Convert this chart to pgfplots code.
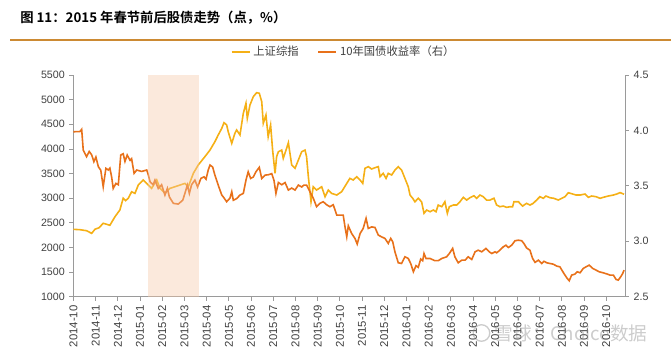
\documentclass[border=0pt]{standalone}
\usepackage{fontspec}
\setmainfont{Liberation Sans}
\newfontfamily\cjk[BoldFont={Noto Sans CJK SC Bold}]{Noto Sans CJK SC}
\usepackage{pgfplots}
\pgfplotsset{compat=1.18}
\definecolor{yel}{HTML}{F5B016}
\definecolor{org}{HTML}{E8711A}
\definecolor{shade}{HTML}{F5C8A8}
\definecolor{axgray}{HTML}{9A9A9A}
\definecolor{txt}{HTML}{404040}
\definecolor{rulec}{HTML}{CC8A33}
\pgfplotsset{
  common/.style={
    at={(55.1pt,42.2pt)}, anchor=south west,
    scale only axis, width=413.6pt, height=166.3pt,
    xmin=0, xmax=24.84,
    axis line style={axgray, line width=0.6pt},
    tick align=outside, major tick length=3pt,
    tick style={axgray, line width=0.6pt},
    yticklabel style={font=\fontsize{8}{10}\selectfont, text=txt},
    /pgf/number format/assume math mode=true,
    /pgf/number format/1000 sep={},
    scaled y ticks=false,
  }
}
\begin{document}
\begin{tikzpicture}
\useasboundingbox (0,0) rectangle (503.25pt,264.75pt);
\node[anchor=west, inner sep=0] at (15pt,251.6pt) {\cjk\bfseries\fontsize{10}{12}\selectfont 图 11：2015 年春节前后股债走势（点，\%）};
\draw[rulec, line width=0.9pt] (7.5pt,234.75pt) -- (503.25pt,234.75pt);

\begin{axis}[common,
  ymin=1000, ymax=5500,
  axis x line*=bottom, axis y line*=left,
  xtick={0,...,24},
  xticklabels={2014-10,2014-11,2014-12,2015-01,2015-02,2015-03,2015-04,2015-05,2015-06,2015-07,2015-08,2015-09,2015-10,2015-11,2015-12,2016-01,2016-02,2016-03,2016-04,2016-05,2016-06,2016-07,2016-08,2016-09,2016-10},
  xticklabel style={rotate=90, anchor=east, font=\fontsize{8.5}{10}\selectfont, text=txt},
  ytick={1000,1500,...,5500},
  legend style={at={(0.4905,1.104)}, anchor=center, draw=none, fill=none,
    legend columns=2, font=\cjk\fontsize{8.5}{10}\selectfont, text=txt,
    /tikz/every even column/.append style={column sep=12pt}},
  legend image code/.code={\draw[#1, line width=1.5pt] (0pt,0pt) -- (13.5pt,0pt);},
]
\addplot[yel, line width=1.2pt] coordinates {
(0.00,2368) (0.30,2360) (0.59,2340) (0.82,2286) (0.97,2370) (1.15,2400) (1.34,2490) (1.50,2470) (1.64,2450) (1.87,2624) (2.09,2760) (2.24,3000) (2.35,2950) (2.47,3000) (2.62,3130) (2.77,3098) (2.92,3267) (3.14,3370) (3.37,3267) (3.52,3200) (3.75,3370) (3.90,3200) (4.12,3100) (4.35,3200) (4.57,3233) (4.80,3267) (5.02,3300) (5.17,3230) (5.40,3505) (5.62,3673) (5.92,3842) (6.15,3977) (6.37,4146) (6.52,4282) (6.68,4418) (6.78,4532) (6.90,4487) (6.97,4350) (7.13,4113) (7.27,4316) (7.35,4384) (7.50,4282) (7.65,4722) (7.77,4925) (7.83,4620) (7.95,4891) (8.10,5060) (8.25,5141) (8.37,5130) (8.48,4958) (8.55,4520) (8.67,4688) (8.77,4248) (8.88,4485) (8.97,3977) (9.08,3505) (9.15,3842) (9.23,3943) (9.38,3977) (9.45,3808) (9.60,4012) (9.68,4126) (9.83,3673) (9.98,3606) (10.13,3775) (10.28,3943) (10.43,3977) (10.50,3842) (10.58,3436) (10.70,2928) (10.80,3232) (10.95,3165) (11.18,3232) (11.33,3030) (11.48,3165) (11.63,3097) (11.86,3064) (12.08,3131) (12.31,3300) (12.45,3402) (12.60,3368) (12.76,3436) (12.91,3368) (13.03,3300) (13.13,3606) (13.28,3640) (13.43,3592) (13.58,3619) (13.73,3640) (13.81,3436) (13.95,3505) (14.08,3402) (14.18,3505) (14.33,3470) (14.48,3571) (14.63,3640) (14.78,3571) (14.93,3402) (15.08,3232) (15.16,3064) (15.28,2997) (15.38,2928) (15.53,2997) (15.68,2928) (15.79,2693) (15.91,2760) (16.06,2725) (16.21,2760) (16.33,2725) (16.43,2860) (16.59,2827) (16.73,2928) (16.84,2693) (16.93,2827) (17.11,2861) (17.26,2861) (17.41,2928) (17.56,3017) (17.71,2962) (17.86,3010) (18.04,3050) (18.16,2997) (18.31,3064) (18.46,3030) (18.61,2961) (18.76,2961) (18.94,3000) (19.06,2861) (19.21,2827) (19.36,2840) (19.51,2814) (19.66,2827) (19.78,2827) (19.84,2928) (20.04,2928) (20.23,2840) (20.41,2895) (20.56,2861) (20.71,2895) (20.86,2962) (21.01,3030) (21.16,2997) (21.28,3044) (21.46,3010) (21.64,2997) (21.84,2962) (21.99,2997) (22.14,3030) (22.29,3111) (22.49,3084) (22.64,3064) (22.82,3064) (23.04,3084) (23.19,3017) (23.34,3044) (23.54,3030) (23.72,2997) (23.86,3017) (24.09,3044) (24.32,3064) (24.47,3084) (24.62,3113) (24.80,3080)
};
\addlegendentry{上证综指}
\addlegendimage{org}
\addlegendentry{10年国债收益率（右）}
\end{axis}

\begin{axis}[common,
  ymin=2.5, ymax=4.5,
  axis x line=none, axis y line*=right,
  ytick={2.5,3.0,3.5,4.0,4.5},
  yticklabel style={/pgf/number format/.cd, fixed, fixed zerofill, precision=1},
]
\addplot[org, line width=1.2pt] coordinates {
(0.00,3.988) (0.29,3.99) (0.37,4.01) (0.44,3.823) (0.59,3.763) (0.71,3.81) (0.82,3.78) (0.92,3.718) (1.01,3.76) (1.12,3.673) (1.23,3.64) (1.34,3.492) (1.46,3.658) (1.57,3.643) (1.64,3.66) (1.72,3.58) (1.79,3.477) (1.91,3.522) (2.02,3.51) (2.13,3.778) (2.24,3.79) (2.32,3.72) (2.42,3.778) (2.55,3.73) (2.62,3.745) (2.73,3.613) (2.85,3.643) (3.07,3.63) (3.30,3.643) (3.37,3.60) (3.45,3.537) (3.59,3.51) (3.67,3.552) (3.82,3.477) (3.97,3.51) (4.12,3.417) (4.23,3.477) (4.32,3.40) (4.50,3.342) (4.72,3.336) (4.92,3.37) (5.02,3.432) (5.13,3.507) (5.22,3.432) (5.32,3.51) (5.47,3.552) (5.59,3.49) (5.74,3.567) (5.88,3.582) (5.97,3.56) (6.07,3.643) (6.15,3.688) (6.27,3.67) (6.37,3.597) (6.52,3.507) (6.68,3.417) (6.75,3.40) (6.90,3.357) (7.05,3.39) (7.13,3.447) (7.20,3.37) (7.35,3.385) (7.50,3.417) (7.65,3.432) (7.77,3.552) (7.87,3.627) (7.98,3.567) (8.10,3.58) (8.22,3.627) (8.37,3.667) (8.48,3.567) (8.63,3.597) (8.77,3.60) (8.93,3.61) (9.03,3.552) (9.12,3.432) (9.23,3.53) (9.38,3.51) (9.53,3.53) (9.68,3.462) (9.83,3.48) (9.98,3.462) (10.13,3.507) (10.28,3.49) (10.38,3.507) (10.50,3.507) (10.65,3.447) (10.80,3.39) (10.95,3.312) (11.10,3.342) (11.25,3.357) (11.40,3.33) (11.55,3.312) (11.70,3.33) (11.86,3.236) (12.00,3.236) (12.15,3.236) (12.23,3.131) (12.31,3.041) (12.38,3.14) (12.53,3.07) (12.68,3.026) (12.78,2.975) (12.91,3.07) (13.05,3.116) (13.18,3.207) (13.28,3.116) (13.43,3.13) (13.58,3.125) (13.73,3.056) (13.88,3.04) (14.03,3.026) (14.18,2.981) (14.29,3.026) (14.38,2.996) (14.48,2.905) (14.63,2.806) (14.78,2.80) (14.93,2.86) (15.08,2.845) (15.19,2.80) (15.31,2.725) (15.43,2.78) (15.53,2.765) (15.64,2.84) (15.73,2.825) (15.79,2.89) (15.88,2.845) (16.06,2.845) (16.28,2.825) (16.43,2.825) (16.59,2.845) (16.81,2.86) (16.93,2.89) (17.08,2.936) (17.18,2.86) (17.33,2.806) (17.49,2.83) (17.64,2.83) (17.78,2.86) (17.94,2.836) (18.09,2.905) (18.23,2.92) (18.39,2.905) (18.58,2.936) (18.73,2.905) (18.84,2.89) (18.99,2.905) (19.06,2.896) (19.21,2.92) (19.36,2.95) (19.48,2.965) (19.59,2.944) (19.74,2.965) (19.89,3.005) (20.04,3.01) (20.19,3.005) (20.29,2.98) (20.41,2.94) (20.56,2.92) (20.68,2.846) (20.79,2.81) (20.94,2.83) (21.09,2.80) (21.19,2.82) (21.32,2.806) (21.46,2.80) (21.61,2.794) (21.77,2.776) (21.91,2.77) (22.09,2.71) (22.24,2.665) (22.33,2.644) (22.44,2.695) (22.59,2.704) (22.69,2.725) (22.82,2.716) (22.96,2.755) (23.09,2.77) (23.23,2.785) (23.39,2.755) (23.54,2.74) (23.68,2.725) (23.86,2.716) (24.05,2.704) (24.17,2.695) (24.32,2.695) (24.44,2.656) (24.54,2.65) (24.65,2.68) (24.74,2.71) (24.80,2.74)
};
\addplot[draw=none, fill=shade, fill opacity=0.4] coordinates {(3.37,2.5) (3.37,4.5) (5.67,4.5) (5.67,2.5)} -- cycle;
\end{axis}

\begin{scope}[opacity=0.4]
\draw[gray, line width=1pt] (361.1pt,15pt) circle (6.2pt);
\node[anchor=west, inner sep=0, text=gray] at (371pt,15pt) {\cjk\fontsize{14}{14}\selectfont 雪球：Choice数据};
\end{scope}
\end{tikzpicture}
\end{document}
